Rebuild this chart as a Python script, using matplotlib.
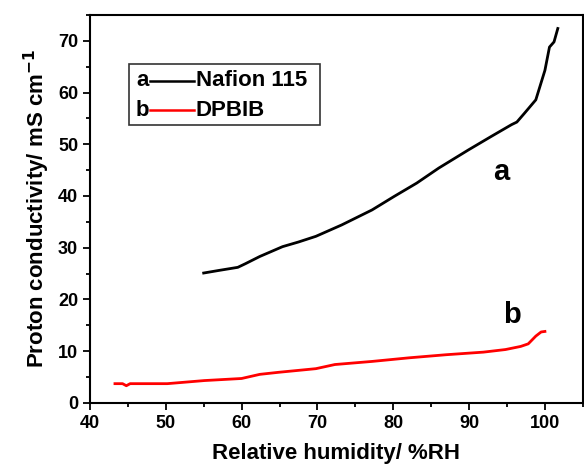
import matplotlib

matplotlib.use("Agg")
import matplotlib.pyplot as plt
from matplotlib.patches import Rectangle
from matplotlib.ticker import MultipleLocator

# Nafion 115 (curve a)
rh_a = [55.0, 57.0, 59.5, 60.5, 62.4, 65.4, 67.5, 69.8, 73.2, 77.2, 80.1,
        83.1, 86.0, 89.9, 92.9, 95.6, 96.3, 97.3, 98.8, 100.0, 100.6,
        101.2, 101.7]
sig_a = [25.1, 25.6, 26.2, 26.9, 28.3, 30.2, 31.1, 32.2, 34.4, 37.3, 39.9,
         42.5, 45.4, 48.9, 51.5, 53.8, 54.3, 56.0, 58.6, 64.3, 68.8,
         69.8, 72.4]

# DPBIB (curve b)
rh_b = [43.3, 44.3, 44.8, 45.3, 50.2, 55.1, 60.0, 62.4, 64.9, 69.8, 72.3,
        77.2, 82.1, 87.0, 91.9, 94.8, 96.8, 97.8, 98.8, 99.5, 100.0]
sig_b = [3.7, 3.7, 3.3, 3.7, 3.7, 4.3, 4.7, 5.5, 5.9, 6.6, 7.4,
         8.0, 8.7, 9.3, 9.8, 10.3, 10.9, 11.4, 12.9, 13.7, 13.8]

plt.rcParams["font.family"] = "Liberation Sans"
plt.rcParams["font.weight"] = "bold"
plt.rcParams["mathtext.default"] = "bf"

fig = plt.figure(figsize=(5.84, 4.70), dpi=100)
ax = fig.add_axes([0.154, 0.143, 0.844, 0.825])

ax.plot(rh_a, sig_a, color="black", lw=2)
ax.plot(rh_b, sig_b, color="red", lw=2)

ax.set_xlim(40, 105)
ax.set_ylim(0, 75)
ax.xaxis.set_major_locator(MultipleLocator(10))
ax.xaxis.set_minor_locator(MultipleLocator(5))
ax.yaxis.set_major_locator(MultipleLocator(10))
ax.yaxis.set_minor_locator(MultipleLocator(5))
ax.tick_params(which="both", direction="out", width=1.3, labelsize=13,
               top=False, right=False)
ax.tick_params(which="major", length=5)
ax.tick_params(which="minor", length=3)
for lab in ax.get_xticklabels() + ax.get_yticklabels():
    lab.set_fontweight("bold")
for sp in ax.spines.values():
    sp.set_linewidth(1.5)

ax.set_xlabel("Relative humidity/ %RH", fontsize=16, fontweight="bold",
              labelpad=8)
ax.set_ylabel(r"Proton conductivity/ mS cm$^{-1}$", fontsize=16,
              fontweight="bold", labelpad=4)

ax.text(94.3, 44.7, "a", fontsize=21, fontweight="bold", ha="center",
        va="center")
ax.text(95.6, 17.0, "b", fontsize=21, fontweight="bold", ha="center",
        va="center")

# hand-made legend with letter prefixes
tr = ax.transAxes
ax.add_patch(Rectangle((0.079, 0.716), 0.387, 0.158, transform=tr,
                       fill=False, edgecolor="#333333", lw=1.2))
for yy, letter, col, name in [(0.83, "a", "black", "Nafion 115"),
                              (0.755, "b", "red", "DPBIB")]:
    ax.text(0.106, yy, letter, transform=tr, fontsize=16, fontweight="bold",
            ha="center", va="center")
    ax.plot([0.122, 0.211], [yy, yy], transform=tr, color=col, lw=1.8)
    ax.text(0.215, yy, name, transform=tr, fontsize=16, fontweight="bold",
            ha="left", va="center")

fig.savefig("out.png", dpi=100)
